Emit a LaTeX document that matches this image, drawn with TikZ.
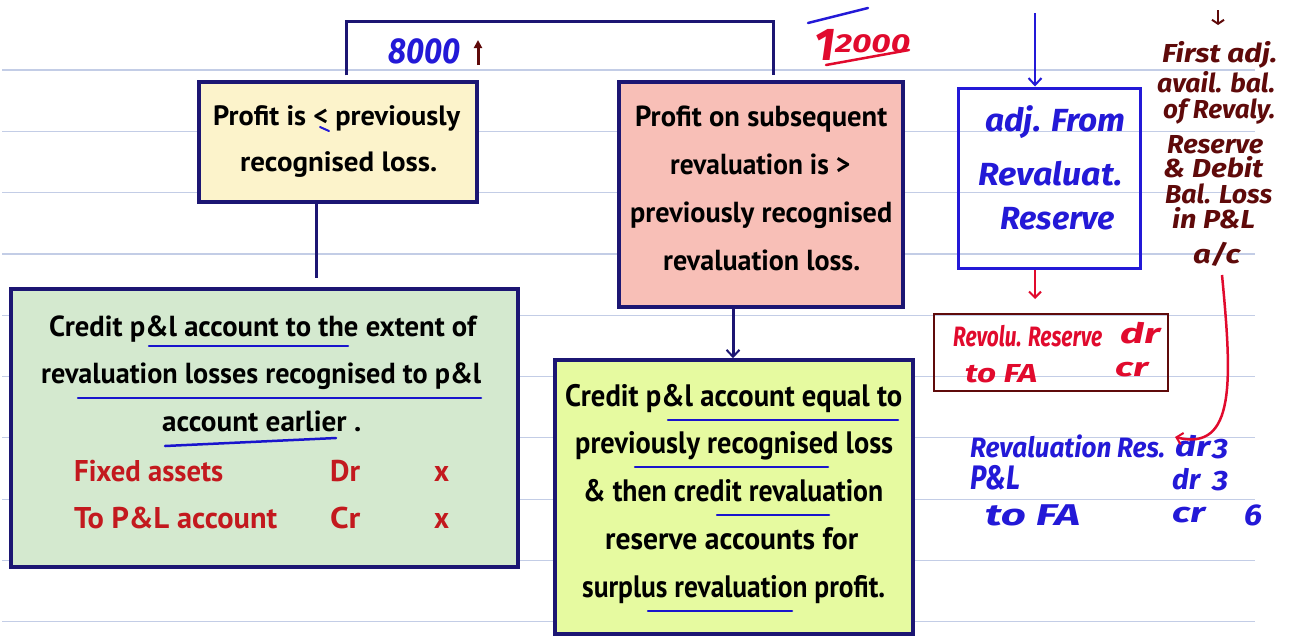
\documentclass[tikz,border=0pt]{standalone}
\usepackage{fontspec}
\usepackage{graphicx}
\setmainfont{PT Sans}
\newfontfamily\handfont{Fira Sans}
\usetikzlibrary{arrows.meta}

\definecolor{navy}{RGB}{28,22,115}
\definecolor{yellowfill}{RGB}{252,243,203}
\definecolor{pinkfill}{RGB}{248,191,183}
\definecolor{greenfill}{RGB}{212,233,207}
\definecolor{limefill}{RGB}{230,250,160}
\definecolor{rule}{RGB}{195,205,230}
\definecolor{handblue}{RGB}{35,25,215}
\definecolor{handred}{RGB}{225,10,45}
\definecolor{handbrown}{RGB}{95,10,10}
\definecolor{tablered}{RGB}{195,25,30}
\definecolor{ulblue}{RGB}{25,20,205}

% squeeze a line of text to a given width, keeping its height
\newcommand\fitw[2]{\resizebox{#1pt}{\height}{#2}}

\tikzset{
  frame/.style={draw=navy, line width=3.5pt, inner sep=0pt},
  txt/.style={anchor=base west, inner sep=0pt, text=black},
  sz/.style={font=\bfseries\fontsize{#1}{#1}\selectfont},
  redtxt/.style={txt, text=tablered, sz=30},
  uline/.style={draw=ulblue, line width=2.5pt, line cap=round},
  hand/.style={anchor=base west, inner sep=0pt, font=\handfont\bfseries\itshape\fontsize{#1}{#1}\selectfont},
  link/.style={draw=navy, line width=3pt},
  barb/.style={-{Straight Barb[length=7pt,width=13pt,line width=2pt]}},
}

\begin{document}
\begin{tikzpicture}[x=1pt,y=-1pt]
\useasboundingbox[fill=white] (0,0) rectangle (1292,638);

% ruled paper
\foreach \k in {0,...,9}
  \draw[rule, line width=1.2pt] (2,70+61.3*\k) -- (1255,70+61.3*\k);

% ---- boxes ----
\node[frame, fill=yellowfill, minimum width=278pt, minimum height=120pt] (yel) at (338,142) {};
\node[frame, fill=pinkfill, minimum width=284pt, minimum height=225pt] (pink) at (761,194.5) {};
\node[frame, fill=greenfill, minimum width=507pt, minimum height=278pt] (green) at (264.5,428) {};
\node[frame, fill=limefill, minimum width=358pt, minimum height=274pt] (lime) at (734,497) {};
\node[draw=handblue, line width=3pt, inner sep=0pt, minimum width=182pt, minimum height=180pt] (res) at (1049,178) {};
\node[draw=handbrown, line width=2.2pt, inner sep=0pt, minimum width=234pt, minimum height=77pt] (jrnl) at (1051,352.5) {};

% ---- connectors ----
\coordinate (ltop) at (346,21);
\coordinate (rtop) at (773,21);
\draw[link] ([yshift=5pt]yel.north -| ltop) -- (ltop) -- (rtop) -- ([yshift=5pt]pink.north -| rtop);
\draw[link, shorten >=9pt] (yel.south -| 316,0) -- (green.north -| 316,0);
\draw[link, barb] (pink.south -| 733,0) -- (lime.north -| 733,0);

\coordinate (intop) at (1035,13);
\draw[handblue, line width=2.5pt, barb] (intop) -- (res.north -| intop);
\coordinate (dropend) at (1035,299);
\draw[handred, line width=2.5pt, -{Straight Barb[length=6pt,width=12pt,line width=2pt]}] (res.south -| dropend) -- (dropend);

% ---- yellow box ----
\node[txt, sz=28] at (213,125) {\fitw{247}{Profit is < previously}};
\node[txt, sz=28] at (240,171) {\fitw{197}{recognised loss.}};
\draw[handblue, line width=2pt, line cap=round] (320,127) -- (329,131);

% ---- pink box ----
\node[txt, sz=29] at (635,126) {\fitw{252}{Profit on subsequent}};
\node[txt, sz=29] at (670,174) {\fitw{180}{revaluation is >}};
\node[txt, sz=29] at (630,222) {\fitw{262}{previously recognised}};
\node[txt, sz=29] at (663,270) {\fitw{197}{revaluation loss.}};

% ---- green box ----
\node[txt, sz=29] at (49,336) {\fitw{427}{Credit p\&l account to the extent of}};
\node[txt, sz=29] at (41,383) {\fitw{440}{revaluation losses recognised to p\&l}};
\node[txt, sz=29] at (162,431) {\fitw{199}{account earlier .}};
\draw[uline] (149,346) -- (348,346);
\draw[uline] (78,398) -- (481,398);
\draw[uline] (165,446) -- (336,438);
\node[redtxt] at (74,481) {\fitw{149}{Fixed assets}};
\node[redtxt] at (330,481) {\fitw{30}{Dr}};
\node[redtxt] at (434,481) {\fitw{15}{x}};
\node[redtxt] at (74,528) {\fitw{203}{To P\&L account}};
\node[redtxt] at (330,528) {\fitw{30}{Cr}};
\node[redtxt] at (434,528) {\fitw{15}{x}};

% ---- lime box ----
\node[txt, sz=31] at (565,406) {\fitw{337}{Credit p\&l account equal to}};
\node[txt, sz=31] at (575,453) {\fitw{318}{previously recognised loss}};
\node[txt, sz=31] at (583,501) {\fitw{300}{\& then credit revaluation}};
\node[txt, sz=31] at (605,549) {\fitw{253}{reserve accounts for}};
\node[txt, sz=31] at (582,597) {\fitw{303}{surplus revaluation profit.}};
\draw[uline] (668,420) -- (898,420);
\draw[uline] (635,467) -- (828,467);
\draw[uline] (717,515) -- (829,515);
\draw[uline] (648,611) -- (792,611);

% ---- handwritten figures at the top ----
\node[hand=36, text=handblue] (eight) at (388,63) {\fitw{72}{8000}};
\coordinate (upfoot) at (478,65);
\coordinate (uphead) at (478,40);
\draw[handbrown, line width=3pt, -{Triangle[length=8pt,width=8pt]}] (upfoot) -- (uphead);
\node[hand=46, text=handred] (twelve) at (814,60) {1\raisebox{8pt}{\fontsize{26}{26}\selectfont\fitw{75}{2000}}};
\coordinate (ula) at (826,65);
\coordinate (ulb) at (909,50);
\draw[handred, line width=2.5pt, line cap=round] (ula) -- (ulb);
\coordinate (ola) at (808,23);
\coordinate (olb) at (868,8);
\draw[handblue, line width=2.5pt, line cap=round] (ola) -- (olb);

% ---- reserve box text ----
\node[hand=32, text=handblue] at (985,131) {\fitw{140}{adj. From}};
\node[hand=32, text=handblue] at (978,185) {\fitw{144}{Revaluat.}};
\node[hand=32, text=handblue] at (1000,229) {\fitw{115}{Reserve}};

% ---- journal box text ----
\node[hand=28, text=handred] at (953,346) {\fitw{149}{Revolu. Reserve}};
\node[hand=28, text=handred] at (1120,343) {\fitw{40}{dr}};
\node[hand=26, text=handred] at (965,382) {\fitw{72}{to FA}};
\node[hand=26, text=handred] at (1115,376) {\fitw{33}{cr}};

% ---- side note ----
\coordinate (nta) at (1218,10);
\coordinate (ntb) at (1218,25);
\draw[handbrown, line width=2.2pt, -{Straight Barb[length=4pt,width=12pt,line width=2pt]}] (nta) -- (ntb);
\node[hand=26, text=handbrown] at (1162,62) {\fitw{115}{First adj.}};
\node[hand=26, text=handbrown] at (1157,92) {\fitw{118}{avail. bal.}};
\node[hand=26, text=handbrown] at (1163,118) {\fitw{112}{of Revaly.}};
\node[hand=26, text=handbrown] at (1167,153) {\fitw{96}{Reserve}};
\node[hand=26, text=handbrown] at (1163,177) {\fitw{100}{\& Debit}};
\node[hand=26, text=handbrown] at (1165,203) {\fitw{107}{Bal. Loss}};
\node[hand=26, text=handbrown] at (1172,228) {\fitw{83}{in P\&L}};
\node[hand=26, text=handbrown] (ac) at (1193,263) {\fitw{47}{a/c}};

% ---- worked entry ----
\node[hand=28, text=handblue] (rvres) at (970,457) {\fitw{195}{Revaluation Res.}};
\node[hand=28, text=handblue] at (1175,456) {\fitw{35}{dr}};
\node[hand=28, text=handblue] at (1212,458) {\fitw{16}{3}};
\node[hand=34, text=handblue] at (970,489) {\fitw{50}{P\&L}};
\node[hand=28, text=handblue] at (1172,489) {\fitw{28}{dr}};
\node[hand=28, text=handblue] at (1212,490) {\fitw{16}{3}};
\node[hand=30, text=handblue] at (985,525) {\fitw{95}{to FA}};
\node[hand=28, text=handblue] at (1172,522) {\fitw{33}{cr}};
\node[hand=30, text=handblue] at (1244,525) {\fitw{18}{6}};

% red curve from the side note to the entry
\coordinate (cstart) at (1222,275);
\coordinate (cend) at (1175,437);
\draw[handred, line width=2.5pt, -{Straight Barb[length=6pt,width=12pt,line width=2pt]}]
  (cstart) .. controls (1232,380) and (1236,452) .. (cend);
\end{tikzpicture}
\end{document}
